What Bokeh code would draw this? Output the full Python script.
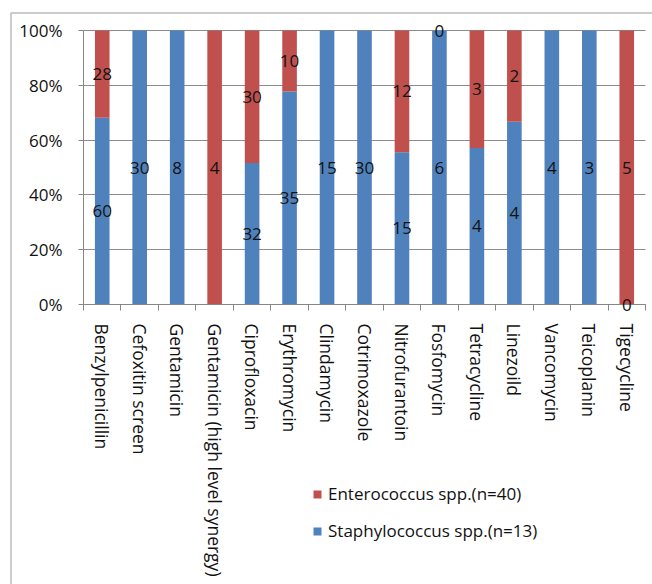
from bokeh.plotting import figure
from bokeh.models import (ColumnDataSource, Range1d, LinearAxis, Grid,
                          FixedTicker, Legend, LegendItem, BoxAnnotation, LabelSet)
from bokeh.core.properties import value
from bokeh.embed import file_html
from bokeh.resources import INLINE

categories = ["Benzylpenicillin", "Cefoxitin screen", "Gentamicin",
              "Gentamicin (high level synergy)", "Ciprofloxacin", "Erythromycin",
              "Clindamycin", "Cotrimoxazole", "Nitrofurantoin", "Fosfomycin",
              "Tetracycline", "Linezoild", "Vancomycin", "Teicoplanin", "Tigecycline"]
staph = [60, 30, 8, None, 32, 35, 15, 30, 15, 6, 4, 4, 4, 3, 0]
entero = [28, None, None, 4, 30, 10, None, None, 12, 0, 3, 2, None, None, 5]
staph_name = "Staphylococcus spp.(n=13)"
entero_name = "Enterococcus spp.(n=40)"
y_ticks = [0, 20, 40, 60, 80, 100]
y_tick_labels = ["0%", "20%", "40%", "60%", "80%", "100%"]

BLUE = "#4F81BD"
RED = "#C0504D"
FONT = "Open Sans"
TXT = "#111111"
AXIS = "#868686"

# page / plot-area geometry (pixels)
W, H = 652, 584
PL, PR, PT, PB = 83, 645, 30, 304

n = len(categories)
xs = (PR - PL) / n          # px per category
ys = (PB - PT) / 100.0      # px per percent
x0 = -PL / xs
x1 = n + (W - PR) / xs
y1 = 100 + PT / ys
y0 = -(H - PB) / ys

def dx(px):
    return x0 + px / xs

def dy(py):
    return y1 - py / ys

xc = [i + 0.5 for i in range(n)]
s_vals = [v or 0 for v in staph]
e_vals = [v or 0 for v in entero]
totals = [a + b for a, b in zip(s_vals, e_vals)]
s_pct = [100.0 * a / t for a, t in zip(s_vals, totals)]
e_top = [100.0 * (a + b) / t for a, b, t in zip(s_vals, e_vals, totals)]

p = figure(width=W, height=H, x_range=Range1d(x0, x1), y_range=Range1d(y0, y1),
           output_backend="svg", toolbar_location=None,
           x_axis_location=None, y_axis_location=None, min_border=0)
p.min_border_left = p.min_border_right = p.min_border_top = p.min_border_bottom = 0
p.outline_line_color = None
p.background_fill_color = "white"
p.border_fill_color = "white"
p.center = [r for r in p.center if not isinstance(r, Grid)]

# grid lines
grid = Grid(dimension=1, ticker=FixedTicker(ticks=y_ticks), grid_line_color="#8c8c8c")
if "cross_bounds" in Grid.properties():
    grid.cross_bounds = (0, n)
    p.add_layout(grid)
else:
    p.segment(x0=[0] * len(y_ticks), x1=[n] * len(y_ticks), y0=y_ticks, y1=y_ticks,
              line_color="#8c8c8c", line_width=1)

src = ColumnDataSource(dict(x=xc, s_top=s_pct, e_top=e_top))
r_s = p.vbar(x="x", bottom=0, top="s_top", width=0.39, source=src,
             fill_color=BLUE, line_color=None)
r_e = p.vbar(x="x", bottom="s_top", top="e_top", width=0.39, source=src,
             fill_color=RED, line_color=None)

# data labels
lx, ly, lt = [], [], []
for x, sv, ev, sp, et in zip(xc, staph, entero, s_pct, e_top):
    if sv is not None:
        lx.append(x); ly.append(sp / 2.0); lt.append(str(sv))
    if ev is not None:
        lx.append(x); ly.append(sp + (et - sp) / 2.0); lt.append(str(ev))
lab_src = ColumnDataSource(dict(x=lx, y=ly, t=lt))
labels = LabelSet(x="x", y="y", text="t", source=lab_src, text_align="center",
                  text_baseline="middle", text_font=value(FONT), text_font_size="17px",
                  text_color=TXT)
p.add_layout(labels)

# y axis, drawn at x = 0
y_axis = LinearAxis(fixed_location=0, bounds=(0, 100),
                    ticker=FixedTicker(ticks=y_ticks),
                    major_label_overrides=dict(zip(y_ticks, y_tick_labels)),
                    axis_line_color=AXIS, major_tick_line_color=AXIS,
                    major_tick_out=5, major_tick_in=0, minor_tick_line_color=None,
                    major_label_standoff=16, major_label_text_font=FONT,
                    major_label_text_font_size="17px", major_label_text_color=TXT)
p.add_layout(y_axis, "left")

# x axis, drawn at y = 0: labels at bar centres, tick marks at category boundaries
x_axis = LinearAxis(fixed_location=0, bounds=(0, n),
                    ticker=FixedTicker(ticks=xc, minor_ticks=list(range(n + 1))),
                    major_label_overrides=dict(zip(xc, categories)),
                    axis_line_color=AXIS, major_tick_line_color=None,
                    major_tick_out=0, major_tick_in=0,
                    minor_tick_line_color=AXIS, minor_tick_out=6, minor_tick_in=0,
                    major_label_orientation="vertical", major_label_standoff=13,
                    major_label_text_font=FONT, major_label_text_font_size="17.5px",
                    major_label_text_color=TXT)
p.add_layout(x_axis, "below")

legend = Legend(items=[LegendItem(label=entero_name, renderers=[r_e]),
                       LegendItem(label=staph_name, renderers=[r_s])],
                location=(312, H - 542), orientation="vertical",
                glyph_width=10, glyph_height=10, label_standoff=6, spacing=14,
                padding=0, margin=0, border_line_color=None, background_fill_alpha=0,
                label_text_font=FONT, label_text_font_size="17px",
                label_text_color=TXT)
p.add_layout(legend)

frame = BoxAnnotation(left=dx(10.5), right=x1 + 5, top=dy(12.5), bottom=y0 - 5,
                      fill_alpha=0, line_color="#222222", line_width=1.5)
p.add_layout(frame)

open("out.html", "w").write(file_html(p, INLINE))
